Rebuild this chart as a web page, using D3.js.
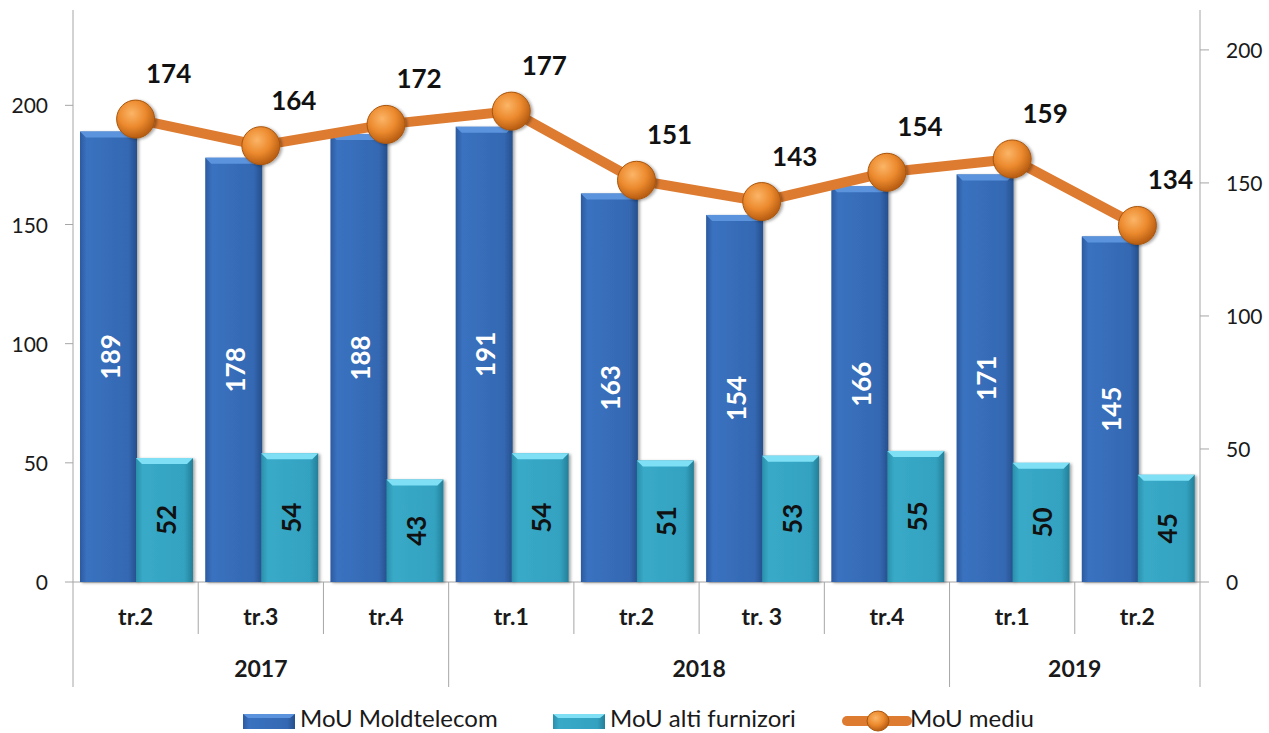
<!DOCTYPE html>
<html>
<head>
<meta charset="utf-8">
<script src="https://cdn.jsdelivr.net/npm/d3@7"></script>
<style>
  body { margin: 0; background: #fff; }
  svg { font-family: Lato, "Open Sans", sans-serif; }
</style>
</head>
<body>
<svg width="1269" height="733"></svg>
<script>
// date
var quarters = ["tr.2", "tr.3", "tr.4", "tr.1", "tr.2", "tr. 3", "tr.4", "tr.1", "tr.2"];
var years = [
  {label: "2017", from: 0, to: 3},
  {label: "2018", from: 3, to: 7},
  {label: "2019", from: 7, to: 9}
];
var mouMoldtelecom = [189, 178, 188, 191, 163, 154, 166, 171, 145];
var mouAlti = [52, 54, 43, 54, 51, 53, 55, 50, 45];
var mouMediu = [174, 164, 172, 177, 151, 143, 154, 159, 134];
var leftTicks = [0, 50, 100, 150, 200];
var rightTicks = [0, 50, 100, 150, 200];

var svg = d3.select("svg");
var plotLeft = 73, plotRight = 1200, plotTop = 10, plotBottom = 582;

var x = d3.scaleBand().domain(d3.range(quarters.length)).range([plotLeft, plotRight]);
var yL = d3.scaleLinear().domain([0, 240]).range([plotBottom, plotTop]);
var yR = d3.scaleLinear().domain([0, 215]).range([plotBottom, plotTop]);

var defs = svg.append("defs");
function hgrad(id, stops) {
  var g = defs.append("linearGradient").attr("id", id)
    .attr("x1", 0).attr("y1", 0).attr("x2", 1).attr("y2", 0);
  stops.forEach(function(s) {
    g.append("stop").attr("offset", s[0]).attr("stop-color", s[1]);
  });
}
hgrad("gBlue", [[0, "#2c5a9f"], [0.12, "#3a72c0"], [0.85, "#3468b2"], [1, "#264f8c"]]);
hgrad("gCyan", [[0, "#2a8fab"], [0.12, "#38aac8"], [0.85, "#33a2c0"], [1, "#247f98"]]);

var rg = defs.append("radialGradient").attr("id", "gBall")
  .attr("cx", "40%").attr("cy", "35%").attr("r", "65%");
rg.append("stop").attr("offset", 0).attr("stop-color", "#fbb567");
rg.append("stop").attr("offset", 0.55).attr("stop-color", "#ec8a2e");
rg.append("stop").attr("offset", 1).attr("stop-color", "#b85d12");

var shadow = defs.append("filter").attr("id", "shadow").attr("x", "-20%").attr("y", "-20%").attr("width", "140%").attr("height", "140%");
shadow.append("feDropShadow").attr("dx", 2).attr("dy", 1).attr("stdDeviation", 1.5).attr("flood-color", "#000").attr("flood-opacity", 0.35);

// axe
var axisColor = "#a6a6a6";
svg.append("line").attr("x1", plotLeft).attr("x2", plotLeft).attr("y1", plotTop).attr("y2", 687).attr("stroke", axisColor);
svg.append("line").attr("x1", plotRight).attr("x2", plotRight).attr("y1", plotTop).attr("y2", 687).attr("stroke", axisColor);
svg.append("line").attr("x1", plotLeft).attr("x2", plotRight).attr("y1", plotBottom).attr("y2", plotBottom).attr("stroke", axisColor);

leftTicks.forEach(function(t) {
  svg.append("line").attr("x1", plotLeft - 8).attr("x2", plotLeft).attr("y1", yL(t)).attr("y2", yL(t)).attr("stroke", axisColor);
  svg.append("text").attr("x", 48).attr("y", yL(t) + 8).attr("text-anchor", "end")
    .attr("font-size", 21).attr("fill", "#1a1a1a").text(t);
});
rightTicks.forEach(function(t) {
  svg.append("line").attr("x1", plotRight).attr("x2", plotRight + 9).attr("y1", yR(t)).attr("y2", yR(t)).attr("stroke", axisColor);
  svg.append("text").attr("x", 1226).attr("y", yR(t) + 8).attr("text-anchor", "start")
    .attr("font-size", 21).attr("fill", "#1a1a1a").text(t);
});

// separatori categorii
var yearEdges = years.map(function(d) { return d.to; });
d3.range(1, quarters.length).forEach(function(i) {
  var isYear = yearEdges.indexOf(i) >= 0;
  svg.append("line").attr("x1", x(i)).attr("x2", x(i))
    .attr("y1", plotBottom).attr("y2", isYear ? 687 : 634).attr("stroke", axisColor);
});

svg.selectAll(".qlabel").data(quarters).enter().append("text")
  .attr("x", function(d, i) { return x(i) + x.bandwidth() / 2; })
  .attr("y", 625).attr("text-anchor", "middle").attr("font-size", 23).attr("font-weight", "bold")
  .attr("fill", "#1a1a1a").text(function(d) { return d; });

svg.selectAll(".ylabel").data(years).enter().append("text")
  .attr("x", function(d) { return (x(d.from) + (d.to < quarters.length ? x(d.to) : plotRight)) / 2; })
  .attr("y", 677).attr("text-anchor", "middle").attr("font-size", 23).attr("font-weight", "bold")
  .attr("fill", "#1a1a1a").text(function(d) { return d.label; });

// bare
var bw = 57;
function drawBars(values, offset, fill, bevel, scale, labelColor) {
  var g = svg.append("g");
  values.forEach(function(v, i) {
    var bx = x(i) + offset, by = scale(v), bh = plotBottom - by;
    g.append("rect").attr("x", bx).attr("y", by).attr("width", bw).attr("height", bh)
      .attr("fill", fill).attr("filter", "url(#shadow)");
    g.append("path")
      .attr("d", "M" + bx + "," + by + "L" + (bx + bw) + "," + by + "L" + (bx + bw - 6) + "," + (by + 6) + "L" + (bx + 6) + "," + (by + 6) + "Z")
      .attr("fill", bevel);
    var cx = bx + bw / 2, cy = by + bh / 2;
    g.append("text").attr("transform", "translate(" + (cx + 11) + "," + cy + ") rotate(-90)")
      .attr("text-anchor", "middle").attr("font-size", 26).attr("font-weight", "bold")
      .attr("fill", labelColor).text(v);
  });
}
drawBars(mouMoldtelecom, 7, "url(#gBlue)", "#5b93dc", yL, "#ffffff");
drawBars(mouAlti, 63, "url(#gCyan)", "#7fe0f5", yL, "#111111");

// linia MoU mediu
var cxs = function(d, i) { return x(i) + x.bandwidth() / 2; };
var line = d3.line().x(cxs).y(function(d) { return yR(d); });
svg.append("path").datum(mouMediu).attr("d", line).attr("fill", "none")
  .attr("stroke", "#dd7b31").attr("stroke-width", 10).attr("stroke-linejoin", "round");

svg.selectAll(".ball").data(mouMediu).enter().append("circle")
  .attr("cx", cxs).attr("cy", function(d) { return yR(d); }).attr("r", 19)
  .attr("fill", "url(#gBall)").attr("stroke", "#a9560f").attr("stroke-width", 1)
  .attr("filter", "url(#shadow)");

svg.selectAll(".mlabel").data(mouMediu).enter().append("text")
  .attr("x", function(d, i) { return cxs(d, i) + 33; })
  .attr("y", function(d) { return yR(d) - 36; })
  .attr("text-anchor", "middle").attr("font-size", 26).attr("font-weight", "bold")
  .attr("fill", "#111").text(function(d) { return d; });

// legenda
var lg = svg.append("g");
function legendBar(x0, fill, bevel, label) {
  lg.append("rect").attr("x", x0).attr("y", 714).attr("width", 52).attr("height", 15).attr("fill", fill);
  lg.append("path").attr("d", "M" + x0 + ",714L" + (x0 + 52) + ",714L" + (x0 + 47) + ",718L" + (x0 + 5) + ",718Z").attr("fill", bevel);
  lg.append("text").attr("x", x0 + 57).attr("y", 727).attr("font-size", 24).attr("fill", "#1a1a1a").text(label);
}
legendBar(243, "url(#gBlue)", "#5b93dc", "MoU Moldtelecom");
legendBar(553, "url(#gCyan)", "#7fe0f5", "MoU alti furnizori");
lg.append("line").attr("x1", 847).attr("x2", 907).attr("y1", 721).attr("y2", 721)
  .attr("stroke", "#dd7b31").attr("stroke-width", 10).attr("stroke-linecap", "round");
lg.append("ellipse").attr("cx", 878).attr("cy", 721).attr("rx", 11).attr("ry", 10)
  .attr("fill", "url(#gBall)").attr("stroke", "#a9560f");
lg.append("text").attr("x", 910).attr("y", 727).attr("font-size", 24).attr("fill", "#1a1a1a").text("MoU mediu");
</script>
</body>
</html>
